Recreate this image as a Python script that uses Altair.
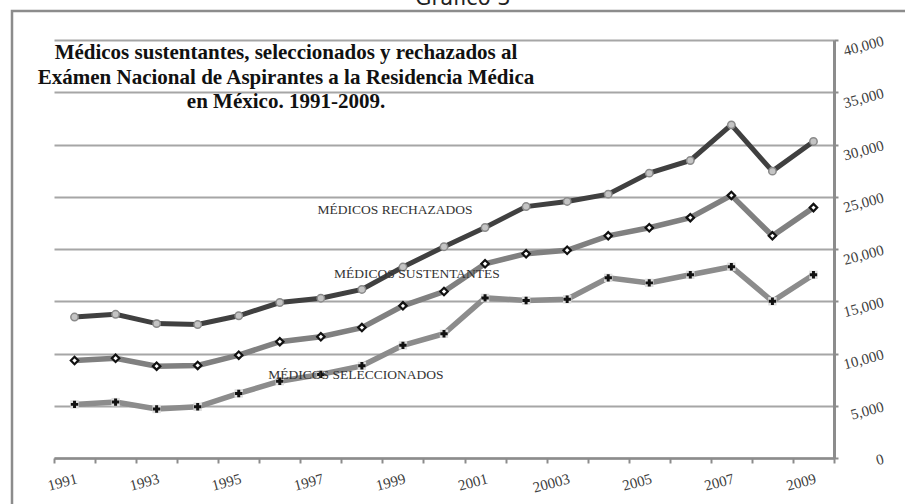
import altair as alt
import pandas as pd

# Years on the category axis and the labels printed under them
years = [str(y) for y in range(1991, 2010)]
year_labels = ["1991", "", "1993", "", "1995", "", "1997", "", "1999", "",
               "2001", "", "20003", "", "2005", "", "2007", "", "2009"]

# Series values (number of physicians)
rechazados = [13490, 13750, 12860, 12770, 13610, 14880, 15290, 16130, 18270, 20220,
              22060, 24060, 24550, 25250, 27260, 28470, 31880, 27450, 30290]
sustentantes = [9330, 9550, 8790, 8860, 9840, 11130, 11600, 12480, 14560, 15930,
                18590, 19550, 19880, 21260, 22030, 23000, 25130, 21260, 23960]
seleccionados = [5130, 5350, 4690, 4900, 6180, 7350, 8000, 8820, 10780, 11890,
                 15320, 15070, 15190, 17240, 16760, 17530, 18300, 15000, 17530]

# In-plot series labels: text, anchor year, anchor value
series_labels = ["MÉDICOS RECHAZADOS", "MÉDICOS SUSTENTANTES", "MÉDICOS SELECCIONADOS"]
label_years = ["1999", "1999", "1998"]
label_values = [23770, 17600, 7930]

title_lines = ["Médicos sustentantes, seleccionados y rechazados al",
               "Exámen Nacional de Aspirantes a la Residencia Médica",
               "en México. 1991-2009."]
heading = "Gráfico 3"

SERIF = "Liberation Serif"

df = pd.DataFrame({
    "year": years * 3,
    "value": rechazados + sustentantes + seleccionados,
    "serie": ["rech"] * 19 + ["sust"] * 19 + ["sel"] * 19,
})

label_expr = "[" + ",".join("'%s'" % t for t in year_labels) + "][toNumber(datum.value) - 1991]"

x_enc = alt.X(
    "year:O", sort=years, bandPosition=0.5,
    scale=alt.Scale(type="band", paddingInner=0, paddingOuter=0),
    axis=alt.Axis(
        title=None, orient="bottom", tickBand="extent", labelExpr=label_expr,
        domainColor="#8c8c8c", domainWidth=2.5, tickColor="#8c8c8c", tickWidth=2,
        tickSize=5, labelAngle=345, labelAlign="right", labelBaseline="top",
        labelPadding=8, labelFont=SERIF, labelFontSize=15, labelColor="#404040",
        grid=False,
    ),
)
y_enc = alt.Y(
    "value:Q",
    scale=alt.Scale(domain=[0, 40000]),
    axis=alt.Axis(
        title=None, orient="right", values=list(range(0, 40001, 5000)), format=",.0f",
        domainColor="#8c8c8c", domainWidth=3, tickColor="#8c8c8c", tickWidth=2,
        tickSize=4, labelAngle=345, labelAlign="right", labelBaseline="middle",
        labelPadding=45, labelFont=SERIF, labelFontSize=15, labelColor="#404040",
        grid=True, gridColor="#a6a6a6", gridWidth=2,
    ),
)

base = alt.Chart(df).encode(x=x_enc, y=y_enc)


def serie(key):
    return base.transform_filter(alt.datum.serie == key)


line_rech = serie("rech").mark_line(color="#404040", strokeWidth=5)
pts_rech = serie("rech").mark_point(shape="circle", filled=True, size=55, color="#c4c4c4",
                                     stroke="#8a8a8a", strokeWidth=1.5, opacity=1)

line_sust = serie("sust").mark_line(color="#808080", strokeWidth=5.5)
pts_sust = serie("sust").mark_point(shape="diamond", filled=True, size=55, fill="white",
                                     stroke="#111111", strokeWidth=2.2, opacity=1)

line_sel = serie("sel").mark_line(color="#8c8c8c", strokeWidth=5.5)
bg_sel = serie("sel").mark_point(shape="square", filled=True, size=70, color="#dedede", opacity=1)
pts_sel = serie("sel").mark_point(shape="cross", filled=True, size=55, color="#111111", opacity=1)

label_df = pd.DataFrame({"text": series_labels, "year": label_years, "value": label_values})
label_shift = [-8, 14, -6]
labels = [
    alt.Chart(label_df.iloc[[i]]).mark_text(
        font=SERIF, fontSize=13.5, color="#333333", align="center", baseline="middle", dx=label_shift[i]
    ).encode(x=x_enc, y=y_enc, text="text:N")
    for i in range(3)
]

title_text = alt.Chart(pd.DataFrame({"t": [0]})).mark_text(
    text=title_lines, font=SERIF, fontWeight="bold", fontSize=21, lineHeight=24.5,
    align="center", baseline="middle", color="#111111",
).encode(x=alt.value(232), y=alt.value(13))

heading_text = alt.Chart(pd.DataFrame({"t": [0]})).mark_text(
    text=heading, font="DejaVu Sans", fontSize=21, align="center", baseline="alphabetic",
    color="#222222",
).encode(x=alt.value(409), y=alt.value(-35))

frame = alt.Chart(pd.DataFrame({"t": [0]})).mark_rect(
    fill=None, stroke="#8c8c8c", strokeWidth=2.5
).encode(x=alt.value(-42), x2=alt.value(870), y=alt.value(-29), y2=alt.value(480))

chart = alt.layer(
    frame, heading_text,
    line_rech, line_sust, line_sel,
    pts_rech, pts_sust, bg_sel, pts_sel,
    *labels, title_text,
).properties(
    width=780, height=418,
    autosize=alt.AutoSizeParams(type="none"),
    padding={"left": 54, "top": 40, "right": 71, "bottom": 46},
).configure_view(stroke=None)

chart.save("out.html", embed_options={"renderer": "svg", "actions": False})
